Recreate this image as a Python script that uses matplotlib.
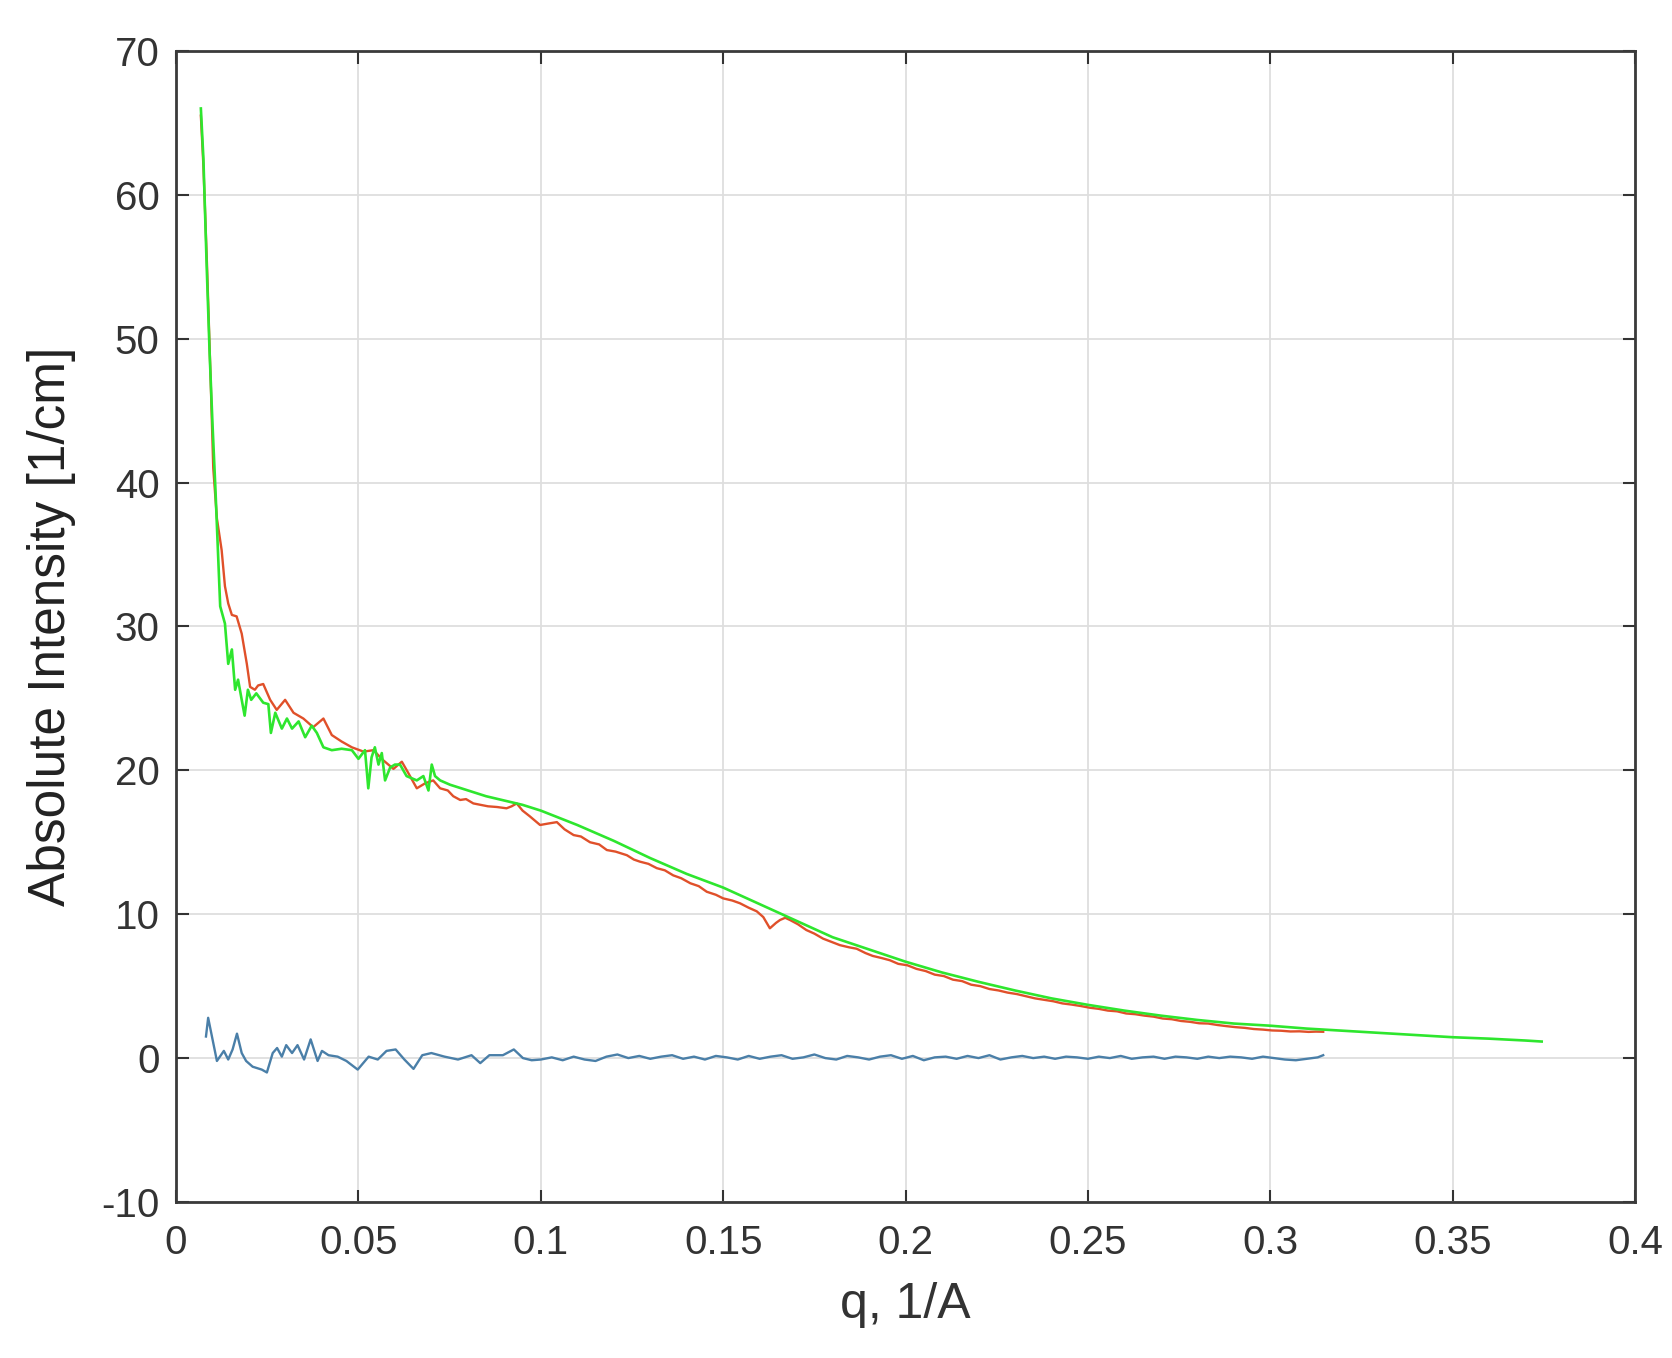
import matplotlib
matplotlib.use('Agg')
import matplotlib.pyplot as plt

plt.rcParams['font.family'] = ['Liberation Sans', 'DejaVu Sans']
plt.rcParams['axes.unicode_minus'] = False

# measured curve (red)
q_red = [0.0068, 0.0075, 0.0085, 0.0095, 0.0102, 0.0112, 0.0125, 0.0134, 0.0143, 0.0153, 0.0166,
         0.0180, 0.0194, 0.0203, 0.0216, 0.0225, 0.0239, 0.0258, 0.0276, 0.0299, 0.0322, 0.0349,
         0.0376, 0.0404, 0.0427, 0.0454, 0.0482, 0.0514, 0.0541, 0.0568, 0.0596, 0.0619, 0.0637,
         0.0660, 0.0683, 0.0705, 0.0724, 0.0745, 0.0760, 0.0779, 0.0795, 0.0815, 0.0835, 0.0855,
         0.0880, 0.0906, 0.0920, 0.0934, 0.0950, 0.0970, 0.0998, 0.1020, 0.1044, 0.1065, 0.1090,
         0.1110, 0.1135, 0.1160, 0.1181, 0.1205, 0.1236, 0.1255, 0.1272, 0.1295, 0.1318, 0.1340,
         0.1363, 0.1385, 0.1410, 0.1433, 0.1455, 0.1480, 0.1500, 0.1525, 0.1546, 0.1570, 0.1592,
         0.1610, 0.1628, 0.1645, 0.1656, 0.1670, 0.1683, 0.1705, 0.1728, 0.1750, 0.1774, 0.1800,
         0.1820, 0.1845, 0.1866, 0.1890, 0.1910, 0.1935, 0.1957, 0.1980, 0.2005, 0.2030, 0.2055,
         0.2080, 0.2105, 0.2130, 0.2155, 0.2180, 0.2205, 0.2230, 0.2255, 0.2280, 0.2305, 0.2330,
         0.2355, 0.2380, 0.2405, 0.2430, 0.2455, 0.2480, 0.2505, 0.2530, 0.2555, 0.2580, 0.2605,
         0.2630, 0.2655, 0.2680, 0.2705, 0.2730, 0.2755, 0.2780, 0.2805, 0.2830, 0.2855, 0.2880,
         0.2905, 0.2930, 0.2955, 0.2980, 0.3005, 0.3030, 0.3055, 0.3080, 0.3105, 0.3125, 0.3145]
I_red = [65.5, 62.0, 55.0, 47.0, 41.0, 37.5, 35.3, 32.8, 31.6, 30.8, 30.7,
         29.5, 27.4, 25.8, 25.6, 25.9, 26.0, 24.9, 24.2, 24.9, 24.0, 23.6,
         23.0, 23.6, 22.45, 22.0, 21.6, 21.3, 21.4, 20.7, 20.1, 20.6, 19.8,
         18.75, 19.1, 19.3, 18.75, 18.6, 18.2, 17.94, 18.0, 17.7, 17.6, 17.5,
         17.45, 17.36, 17.5, 17.7, 17.2, 16.8, 16.2, 16.3, 16.4, 15.9, 15.5,
         15.4, 15.0, 14.85, 14.46, 14.35, 14.1, 13.8, 13.65, 13.5, 13.2, 13.05,
         12.7, 12.5, 12.15, 11.95, 11.56, 11.35, 11.1, 10.95, 10.76, 10.45, 10.2,
         9.8, 9.02, 9.4, 9.6, 9.75, 9.6, 9.3, 8.9, 8.65, 8.3, 8.05,
         7.85, 7.7, 7.6, 7.3, 7.1, 6.95, 6.8, 6.55, 6.45, 6.2, 6.05,
         5.8, 5.7, 5.45, 5.35, 5.1, 5.0, 4.8, 4.7, 4.55, 4.45, 4.3,
         4.15, 4.05, 3.95, 3.8, 3.72, 3.62, 3.5, 3.42, 3.3, 3.25, 3.1,
         3.05, 2.95, 2.88, 2.75, 2.7, 2.58, 2.52, 2.42, 2.4, 2.3, 2.22,
         2.15, 2.1, 2.02, 1.98, 1.92, 1.9, 1.85, 1.86, 1.82, 1.84, 1.83]

# fit curve (green)
q_fit = [0.0068, 0.0075, 0.0084, 0.0092, 0.0100, 0.0108, 0.0116, 0.0121, 0.0134, 0.0143, 0.0153,
         0.0162, 0.0170, 0.0180, 0.0188, 0.0197, 0.0206, 0.0220, 0.0239, 0.0253, 0.0260, 0.0272,
         0.0290, 0.0304, 0.0318, 0.0336, 0.0354, 0.0372, 0.0386, 0.0404, 0.0427, 0.0454, 0.0482,
         0.0500, 0.0518, 0.0527, 0.0536, 0.0545, 0.0555, 0.0564, 0.0573, 0.0587, 0.0600, 0.0614,
         0.0632, 0.0660, 0.0678, 0.0692, 0.0701, 0.0710, 0.0724, 0.0751, 0.0850, 0.0950, 0.1000,
         0.1100, 0.1200, 0.1300, 0.1400, 0.1500, 0.1600, 0.1700, 0.1800, 0.1900, 0.2000, 0.2100,
         0.2200, 0.2300, 0.2400, 0.2500, 0.2600, 0.2700, 0.2800, 0.2900, 0.3000, 0.3100, 0.3200,
         0.3300, 0.3400, 0.3500, 0.3600, 0.3700, 0.3744]
I_fit = [66.0, 62.5, 55.0, 49.0, 44.0, 39.5, 34.5, 31.4, 30.2, 27.4, 28.4,
         25.6, 26.3, 24.9, 23.8, 25.6, 24.9, 25.35, 24.7, 24.6, 22.6, 24.0,
         22.9, 23.6, 22.9, 23.4, 22.3, 23.1, 22.6, 21.6, 21.4, 21.5, 21.4,
         20.8, 21.4, 18.75, 20.9, 21.6, 20.4, 21.2, 19.3, 20.2, 20.4, 20.4,
         19.6, 19.3, 19.6, 18.6, 20.4, 19.6, 19.3, 19.0, 18.2, 17.6, 17.2,
         16.2, 15.1, 13.9, 12.8, 11.85, 10.7, 9.55, 8.4, 7.55, 6.7, 5.95,
         5.3, 4.7, 4.15, 3.7, 3.3, 2.95, 2.65, 2.4, 2.25, 2.05, 1.9,
         1.75, 1.6, 1.45, 1.35, 1.22, 1.15]

# residual (blue)
q_res = [0.0082, 0.0088, 0.0100, 0.0112, 0.0131, 0.0143, 0.0155, 0.0167, 0.0180, 0.0192, 0.0210,
         0.0235, 0.0249, 0.0265, 0.0277, 0.0290, 0.0302, 0.0318, 0.0333, 0.0351, 0.0369, 0.0388,
         0.0400, 0.0418, 0.0443, 0.0467, 0.0498, 0.0528, 0.0553, 0.0577, 0.0602, 0.0626, 0.0651,
         0.0675, 0.0700, 0.0736, 0.0773, 0.0810, 0.0834, 0.0859, 0.0896, 0.0926, 0.0951, 0.0975,
         0.1000, 0.1030, 0.1060, 0.1090, 0.1120, 0.1150, 0.1180, 0.1210, 0.1240, 0.1270, 0.1300,
         0.1330, 0.1360, 0.1390, 0.1420, 0.1450, 0.1480, 0.1510, 0.1540, 0.1570, 0.1600, 0.1630,
         0.1660, 0.1690, 0.1720, 0.1750, 0.1780, 0.1810, 0.1840, 0.1870, 0.1900, 0.1930, 0.1960,
         0.1990, 0.2020, 0.2050, 0.2080, 0.2110, 0.2140, 0.2170, 0.2200, 0.2230, 0.2260, 0.2290,
         0.2320, 0.2350, 0.2380, 0.2410, 0.2440, 0.2470, 0.2500, 0.2530, 0.2560, 0.2590, 0.2620,
         0.2650, 0.2680, 0.2710, 0.2740, 0.2770, 0.2800, 0.2830, 0.2860, 0.2890, 0.2920, 0.2950,
         0.2980, 0.3010, 0.3040, 0.3070, 0.3100, 0.3130, 0.3145]
I_res = [1.5, 2.8, 1.3, -0.2, 0.5, -0.1, 0.6, 1.7, 0.35, -0.2, -0.6,
         -0.8, -1.0, 0.35, 0.7, 0.1, 0.9, 0.35, 0.9, -0.1, 1.3, -0.2,
         0.5, 0.2, 0.1, -0.2, -0.8, 0.1, -0.1, 0.5, 0.6, -0.1, -0.75,
         0.2, 0.35, 0.1, -0.1, 0.2, -0.35, 0.2, 0.2, 0.6, 0.0, -0.15,
         -0.1, 0.05, -0.15, 0.1, -0.1, -0.2, 0.1, 0.25, 0.0, 0.15, -0.05,
         0.1, 0.2, -0.05, 0.1, -0.1, 0.15, 0.05, -0.1, 0.15, -0.05, 0.1,
         0.2, -0.05, 0.05, 0.25, 0.0, -0.1, 0.15, 0.05, -0.1, 0.1, 0.2,
         -0.05, 0.15, -0.15, 0.05, 0.1, -0.05, 0.15, 0.0, 0.2, -0.1, 0.05,
         0.15, 0.0, 0.1, -0.05, 0.1, 0.05, -0.05, 0.1, 0.0, 0.15, -0.05,
         0.05, 0.1, -0.05, 0.1, 0.05, -0.05, 0.1, 0.0, 0.1, 0.05, -0.05,
         0.1, 0.0, -0.1, -0.15, -0.05, 0.05, 0.2]

xticks = [0, 0.05, 0.1, 0.15, 0.2, 0.25, 0.3, 0.35, 0.4]
xticklabels = ['0', '0.05', '0.1', '0.15', '0.2', '0.25', '0.3', '0.35', '0.4']
yticks = [-10, 0, 10, 20, 30, 40, 50, 60, 70]

fig = plt.figure(figsize=(16.72, 13.58), dpi=100)
ax = fig.add_axes([0.1053, 0.1149, 0.8726, 0.8476])

ax.plot(q_res, I_res, color='#4a7fa8', linewidth=1.7)
ax.plot(q_red, I_red, color='#e0502a', linewidth=1.7)
ax.plot(q_fit, I_fit, color='#2ee62e', linewidth=1.9)

ax.set_xlim(0, 0.4)
ax.set_ylim(-10, 70)
ax.set_xticks(xticks)
ax.set_xticklabels(xticklabels)
ax.set_yticks(yticks)

ax.grid(True, color='#dedede', linewidth=1.3)
ax.set_axisbelow(True)

ax.tick_params(direction='in', length=9, width=1.5, color='#333333',
               top=True, right=True, labelsize=29, labelcolor='#333333')
ax.tick_params(axis='x', pad=16)
ax.tick_params(axis='y', pad=12)
for sp in ax.spines.values():
    sp.set_color('#3a3a3a')
    sp.set_linewidth(2.0)

ax.set_xlabel('q, 1/A', fontsize=36, color='#333333', labelpad=14)
ax.set_ylabel('Absolute Intensity [1/cm]', fontsize=37, color='#222222', labelpad=18)

fig.savefig('out.png', dpi=100, facecolor='white')
